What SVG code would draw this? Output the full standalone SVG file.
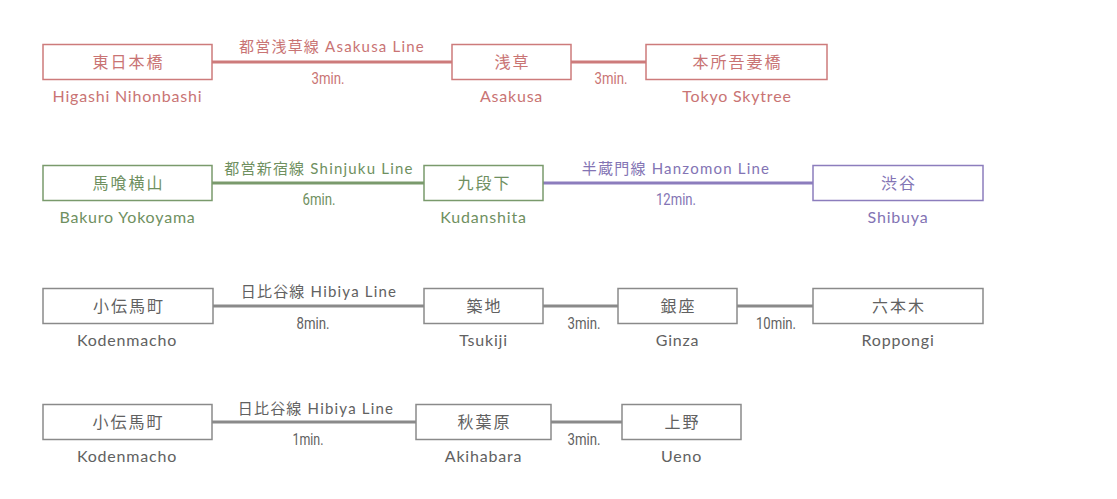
<svg xmlns="http://www.w3.org/2000/svg" width="1117" height="499" viewBox="0 0 1117 499">
<style>
.box{fill:#fff;stroke-width:1.5}
.ln{stroke-width:3;fill:none}
.jp{font-family:"Noto Sans CJK JP","Noto Sans",sans-serif;font-size:16px;letter-spacing:2px;text-anchor:middle}
.en{font-family:Lato,"Noto Sans",sans-serif;font-size:16px;letter-spacing:0.8px;text-anchor:middle}
.lbl{font-family:Lato,"Noto Sans CJK JP",sans-serif;font-size:15px;letter-spacing:1.2px;text-anchor:middle}
.lbl tspan.c{font-family:"Noto Sans CJK JP",sans-serif}
.min{font-family:Roboto,"DejaVu Sans Condensed",sans-serif;font-weight:400;font-size:16.5px;text-anchor:middle}
.r .box{stroke:#cd7b7b}.r text{fill:#c97474}
.g .box{stroke:#7a9a6c}.g text{fill:#6f905f}
.p .box{stroke:#8c7dbd}.p text{fill:#8374b4}
.k .box{stroke:#8a8a8a}.k text{fill:#616161}
</style>
<g id="connectors">
<line class="ln" x1="212" y1="62" x2="452" y2="62" stroke="#cd7b7b"/>
<line class="ln" x1="571" y1="62" x2="646" y2="62" stroke="#cd7b7b"/>
<line class="ln" x1="212" y1="183" x2="424" y2="183" stroke="#7a9a6c"/>
<line class="ln" x1="543" y1="183" x2="813" y2="183" stroke="#8c7dbd"/>
<line class="ln" x1="213" y1="306" x2="424" y2="306" stroke="#8a8a8a"/>
<line class="ln" x1="543" y1="306" x2="618" y2="306" stroke="#8a8a8a"/>
<line class="ln" x1="737" y1="306" x2="813" y2="306" stroke="#8a8a8a"/>
<line class="ln" x1="212" y1="422" x2="416" y2="422" stroke="#8a8a8a"/>
<line class="ln" x1="551" y1="422" x2="622" y2="422" stroke="#8a8a8a"/>
</g>
<g id="labels-row1" class="r">
<text class="lbl" x="332" y="52"><tspan class="c">都営浅草線</tspan> Asakusa Line</text>
<text class="min" x="328" y="83.5" textLength="33" lengthAdjust="spacingAndGlyphs">3min.</text>
<text class="min" x="611" y="83.5" textLength="33" lengthAdjust="spacingAndGlyphs">3min.</text>
</g>
<g id="labels-row2">
<g class="g"><text class="lbl" x="319" y="174"><tspan class="c">都営新宿線</tspan> Shinjuku Line</text>
<text class="min" x="319" y="204.5" textLength="33" lengthAdjust="spacingAndGlyphs">6min.</text></g>
<g class="p"><text class="lbl" x="676" y="174"><tspan class="c">半蔵門線</tspan> Hanzomon Line</text>
<text class="min" x="676" y="204.5" textLength="40" lengthAdjust="spacingAndGlyphs">12min.</text></g>
</g>
<g id="labels-row3" class="k">
<text class="lbl" x="319" y="297"><tspan class="c">日比谷線</tspan> Hibiya Line</text>
<text class="min" x="313" y="328.5" textLength="33" lengthAdjust="spacingAndGlyphs">8min.</text>
<text class="min" x="584" y="328.5" textLength="33" lengthAdjust="spacingAndGlyphs">3min.</text>
<text class="min" x="776" y="328.5" textLength="40" lengthAdjust="spacingAndGlyphs">10min.</text>
</g>
<g id="labels-row4" class="k">
<text class="lbl" x="316" y="414"><tspan class="c">日比谷線</tspan> Hibiya Line</text>
<text class="min" x="308" y="444.5" textLength="31" lengthAdjust="spacingAndGlyphs">1min.</text>
<text class="min" x="584" y="444.5" textLength="33" lengthAdjust="spacingAndGlyphs">3min.</text>
</g>
<g id="n-higashinihonbashi" class="r"><rect class="box" x="43" y="44.5" width="169" height="35"/><text class="jp" x="128.5" y="68">東日本橋</text><text class="en" x="127.5" y="102">Higashi Nihonbashi</text></g>
<g id="n-asakusa" class="r"><rect class="box" x="452" y="44.5" width="119" height="35"/><text class="jp" x="512.5" y="68">浅草</text><text class="en" x="511.5" y="102">Asakusa</text></g>
<g id="n-skytree" class="r"><rect class="box" x="646" y="44.5" width="181" height="35"/><text class="jp" x="737.5" y="68">本所吾妻橋</text><text class="en" x="737" y="102">Tokyo Skytree</text></g>
<g id="n-bakuroyokoyama" class="g"><rect class="box" x="43" y="165.5" width="169" height="35"/><text class="jp" x="128.5" y="189">馬喰横山</text><text class="en" x="127.5" y="223">Bakuro Yokoyama</text></g>
<g id="n-kudanshita" class="g"><rect class="box" x="424" y="165.5" width="119" height="35"/><text class="jp" x="484.5" y="189">九段下</text><text class="en" x="483.5" y="223">Kudanshita</text></g>
<g id="n-shibuya" class="p"><rect class="box" x="813" y="165.5" width="170" height="35"/><text class="jp" x="899" y="189">渋谷</text><text class="en" x="898" y="223">Shibuya</text></g>
<g id="n-kodenmacho1" class="k"><rect class="box" x="43" y="288.5" width="170" height="35"/><text class="jp" x="129" y="312">小伝馬町</text><text class="en" x="127" y="346">Kodenmacho</text></g>
<g id="n-tsukiji" class="k"><rect class="box" x="424" y="288.5" width="119" height="35"/><text class="jp" x="484.5" y="312">築地</text><text class="en" x="483.5" y="346">Tsukiji</text></g>
<g id="n-ginza" class="k"><rect class="box" x="618" y="288.5" width="119" height="35"/><text class="jp" x="678.5" y="312">銀座</text><text class="en" x="677.5" y="346">Ginza</text></g>
<g id="n-roppongi" class="k"><rect class="box" x="813" y="288.5" width="170" height="35"/><text class="jp" x="899" y="312">六本木</text><text class="en" x="898" y="346">Roppongi</text></g>
<g id="n-kodenmacho2" class="k"><rect class="box" x="43" y="404.5" width="169" height="35"/><text class="jp" x="128.5" y="428">小伝馬町</text><text class="en" x="127" y="462">Kodenmacho</text></g>
<g id="n-akihabara" class="k"><rect class="box" x="416" y="404.5" width="135" height="35"/><text class="jp" x="484.5" y="428">秋葉原</text><text class="en" x="483.5" y="462">Akihabara</text></g>
<g id="n-ueno" class="k"><rect class="box" x="622" y="404.5" width="119" height="35"/><text class="jp" x="682.5" y="428">上野</text><text class="en" x="681.5" y="462">Ueno</text></g>
</svg>
